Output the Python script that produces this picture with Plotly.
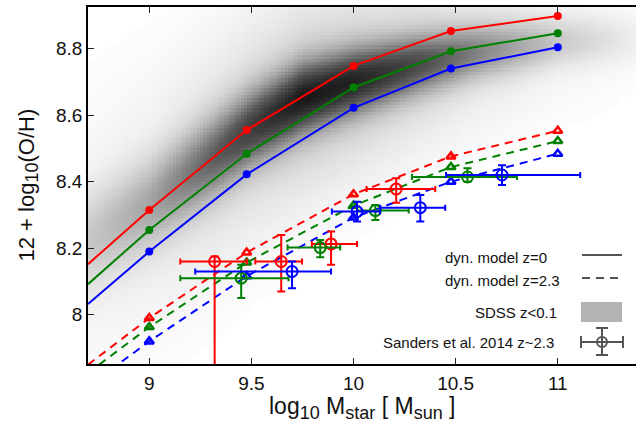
import numpy as np
import plotly.graph_objects as go

# ---------------- data ----------------
mass_bins = [9.0, 9.477, 10.0, 10.477, 11.0]
edge_mass = 8.70  # left edge of the axes, where the model curves enter

# dynamical model z=0 (solid, filled circles)
z0_red = [8.315, 8.555, 8.748, 8.853, 8.898]
z0_green = [8.255, 8.484, 8.683, 8.792, 8.846]
z0_blue = [8.190, 8.422, 8.622, 8.740, 8.804]
z0_edge = [8.152, 8.092, 8.032]  # red, green, blue at left edge

# dynamical model z=2.3 (dashed, triangles)
z23_red = [7.990, 8.187, 8.362, 8.476, 8.553]
z23_green = [7.963, 8.157, 8.328, 8.444, 8.522]
z23_blue = [7.920, 8.116, 8.292, 8.400, 8.484]
z23_edge = [7.850, 7.825, 7.785]

# Sanders et al. 2014, z~2.3 (open circles with error bars)
s_red_x = [9.320, 9.646, 9.890, 10.209]
s_red_y = [8.160, 8.160, 8.213, 8.378]
s_red_xlo = [9.152, 9.519, 9.796, 10.064]
s_red_xhi = [9.478, 9.748, 10.017, 10.400]
s_red_ylo = [7.600, 8.070, 8.150, 8.337]
s_red_yhi = [8.175, 8.240, 8.250, 8.410]

s_green_x = [9.450, 9.837, 10.107, 10.558]
s_green_y = [8.110, 8.202, 8.313, 8.414]
s_green_xlo = [9.152, 9.677, 10.017, 10.286]
s_green_xhi = [9.682, 9.935, 10.270, 10.800]
s_green_ylo = [8.050, 8.173, 8.285, 8.400]
s_green_yhi = [8.150, 8.225, 8.330, 8.440]

s_blue_x = [9.699, 10.017, 10.327, 10.727]
s_blue_y = [8.130, 8.310, 8.322, 8.420]
s_blue_xlo = [9.225, 9.894, 10.131, 10.453]
s_blue_xhi = [9.890, 10.130, 10.449, 11.110]
s_blue_ylo = [8.080, 8.280, 8.280, 8.390]
s_blue_yhi = [8.160, 8.340, 8.360, 8.449]

# SDSS z<0.1 density ridge
ridge_mass = [8.7, 9.0, 9.5, 9.75, 10.0, 10.3, 10.6, 11.0, 11.4]
ridge_oh = [8.22, 8.33, 8.56, 8.65, 8.70, 8.75, 8.79, 8.82, 8.83]
ridge_sig = [0.10, 0.09, 0.075, 0.07, 0.065, 0.06, 0.055, 0.05, 0.05]
ridge_peak = [0.22, 0.36, 0.80, 1.00, 0.95, 0.75, 0.50, 0.22, 0.06]

x_ticks = [9, 9.5, 10, 10.5, 11]
x_ticktext = ["9", "9.5", "10", "10.5", "11"]
y_ticks = [8.0, 8.2, 8.4, 8.6, 8.8]
y_ticktext = ["8", "8.2", "8.4", "8.6", "8.8"]

colors = {"red": "#ff0000", "green": "#008000", "blue": "#0000ff"}
FONT = "Liberation Sans, Arial, Helvetica, sans-serif"

# ---------------- figure ----------------
W, H = 636, 427
ML, MR, MT, MB = 88, 0, 7, 63
XR = [8.70, 8.70 + (W - ML - MR) / 204.25]
YR = [7.852, 8.925]

fig = go.Figure()

# SDSS background density
xb = np.arange(8.70 + 0.0083, 11.40, 0.0166)
yb = np.arange(7.85 + 0.005, 8.93, 0.0100)
rc = np.interp(xb, ridge_mass, ridge_oh)
rs = np.interp(xb, ridge_mass, ridge_sig)
rp = np.interp(xb, ridge_mass, ridge_peak)
d = yb[:, None] - rc[None, :]
s = rs[None, :]
dens = rp[None, :] * (0.78 * np.exp(-d**2 / (2 * s**2)) + 0.22 * np.exp(-d**2 / (2 * (3.0 * s)**2)))
dens = np.where(dens < 0.01, np.nan, dens)
fig.add_trace(go.Heatmap(
    x=xb, y=yb, z=dens, zmin=0, zmax=1, showscale=False, hoverinfo="skip",
    colorscale=[[0, "#ffffff"], [0.08, "#ebebeb"], [0.3, "#b4b4b4"], [0.65, "#5a5a5a"], [1, "#181818"]],
))

def lines(name, z0, e0, z23, e23):
    c = colors[name]
    fig.add_trace(go.Scatter(x=[edge_mass] + mass_bins, y=[e0] + z0, mode="lines",
                             line=dict(color=c, width=2), showlegend=False))
    fig.add_trace(go.Scatter(x=mass_bins, y=z0, mode="markers",
                             marker=dict(color=c, size=8, symbol="circle"), showlegend=False))
    fig.add_trace(go.Scatter(x=[edge_mass] + mass_bins, y=[e23] + z23, mode="lines",
                             line=dict(color=c, width=2, dash="8px,6px"), showlegend=False))
    fig.add_trace(go.Scatter(x=mass_bins, y=z23, mode="markers",
                             marker=dict(color=c, size=8, symbol="triangle-up-open",
                                         line=dict(color=c, width=2.5)), showlegend=False))

lines("red", z0_red, z0_edge[0], z23_red, z23_edge[0])
lines("green", z0_green, z0_edge[1], z23_green, z23_edge[1])
lines("blue", z0_blue, z0_edge[2], z23_blue, z23_edge[2])

def sanders(name, x, y, xlo, xhi, ylo, yhi):
    c = colors[name]
    x = np.array(x); y = np.array(y)
    fig.add_trace(go.Scatter(
        x=x, y=y, mode="markers", cliponaxis=False, showlegend=False,
        marker=dict(symbol="circle-open", size=11, color=c, line=dict(color=c, width=2)),
        error_x=dict(type="data", symmetric=False, array=np.array(xhi) - x,
                     arrayminus=x - np.array(xlo), color=c, thickness=2, width=3),
        error_y=dict(type="data", symmetric=False, array=np.array(yhi) - y,
                     arrayminus=y - np.array(ylo), color=c, thickness=2, width=4),
    ))

sanders("red", s_red_x, s_red_y, s_red_xlo, s_red_xhi, s_red_ylo, s_red_yhi)
sanders("green", s_green_x, s_green_y, s_green_xlo, s_green_xhi, s_green_ylo, s_green_yhi)
sanders("blue", s_blue_x, s_blue_y, s_blue_xlo, s_blue_xhi, s_blue_ylo, s_blue_yhi)

# ---------------- legend (drawn in pixel -> paper coords) ----------------
PW, PH = W - ML - MR, H - MT - MB
def px(xp):
    return (xp - ML) / PW
def py(yp):
    return (H - MB - yp) / PH

LG = "#555555"
shapes = []
annotations = []

def ltext(text, xp, yp, anchor):
    annotations.append(dict(text=text, x=px(xp), y=py(yp), xref="paper", yref="paper",
                            xanchor=anchor, yanchor="middle", showarrow=False,
                            font=dict(family=FONT, size=15, color="#111111")))

ltext("dyn. model z=0", 443, 257, "left")
ltext("dyn. model z=2.3", 443, 280, "left")
ltext("SDSS z<0.1", 559, 312, "right")
ltext("Sanders et al. 2014 z~2.3", 556, 342, "right")

shapes.append(dict(type="line", xref="paper", yref="paper", x0=px(582), x1=px(622),
                   y0=py(255), y1=py(255), line=dict(color=LG, width=2)))
shapes.append(dict(type="line", xref="paper", yref="paper", x0=px(582), x1=px(622),
                   y0=py(278), y1=py(278), line=dict(color=LG, width=2, dash="8px,6px")))
shapes.append(dict(type="rect", xref="paper", yref="paper", x0=px(581), x1=px(622),
                   y0=py(302), y1=py(322), fillcolor="#b3b3b3", line=dict(width=0)))
cx, cy = 602, 342
for seg in [((581, cy), (623, cy)), ((cx, 328), (cx, 355)),
            ((581, cy - 6), (581, cy + 6)), ((623, cy - 6), (623, cy + 6)),
            ((cx - 6, 328), (cx + 6, 328)), ((cx - 6, 355), (cx + 6, 355))]:
    (xa, ya), (xb2, yb2) = seg
    shapes.append(dict(type="line", xref="paper", yref="paper", x0=px(xa), x1=px(xb2),
                       y0=py(ya), y1=py(yb2), line=dict(color=LG, width=2)))
shapes.append(dict(type="circle", xref="paper", yref="paper", x0=px(cx - 5), x1=px(cx + 5),
                   y0=py(cy + 5), y1=py(cy - 5), line=dict(color=LG, width=2)))

# axis titles
annotations.append(dict(
    text="log<sub><span style='font-size:18px'>10</span></sub> M<sub><span style='font-size:18px'>star</span></sub> [ M<sub><span style='font-size:18px'>sun</span></sub> ]",
    x=0.5, y=py(408), xref="paper", yref="paper", xanchor="center", yanchor="middle",
    showarrow=False, font=dict(family=FONT, size=23, color="#111111")))
annotations.append(dict(
    text="12 + log<sub><span style='font-size:18px'>10</span></sub>(O/H)",
    x=px(28), y=0.5, xref="paper", yref="paper", xanchor="center", yanchor="middle",
    textangle=-90, showarrow=False, font=dict(family=FONT, size=22, color="#111111")))

fig.update_layout(
    width=W, height=H, margin=dict(l=ML, r=MR, t=MT, b=MB),
    paper_bgcolor="white", plot_bgcolor="white", showlegend=False,
    shapes=shapes, annotations=annotations,
    font=dict(family=FONT, color="#111111"),
)
fig.update_xaxes(range=XR, tickvals=x_ticks, ticktext=x_ticktext, ticks="inside", ticklen=6,
                 tickwidth=1, tickcolor="#222", showline=True, linecolor="black", linewidth=1.5,
                 mirror="ticks", showgrid=False, zeroline=False, ticklabelstandoff=1,
                 tickfont=dict(family=FONT, size=19, color="#111111"))
fig.update_yaxes(range=YR, tickvals=y_ticks, ticktext=y_ticktext, ticks="inside", ticklen=6,
                 tickwidth=1, tickcolor="#222", showline=True, linecolor="black", linewidth=1.5,
                 mirror=False, showgrid=False, zeroline=False,
                 tickfont=dict(family=FONT, size=19, color="#111111"))

fig.write_html("out.html")
